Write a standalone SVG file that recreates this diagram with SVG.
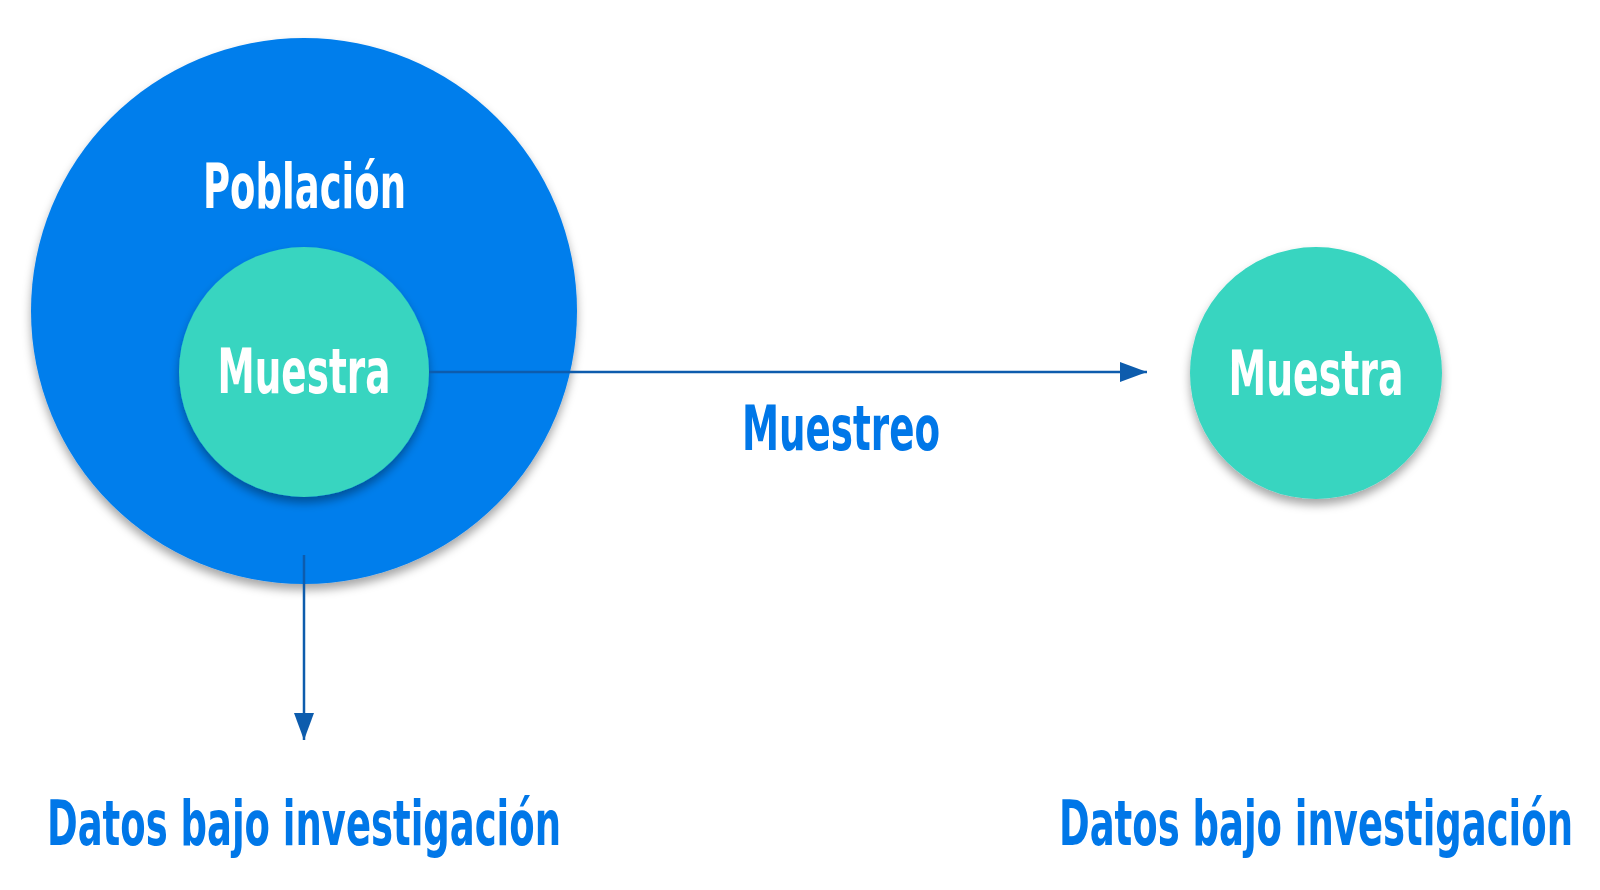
<svg xmlns="http://www.w3.org/2000/svg" width="1600" height="890" viewBox="0 0 1600 890">
<defs>
<style>
.lbl{font-family:"DejaVu Sans","Liberation Sans",sans-serif;font-weight:bold;font-stretch:condensed;text-anchor:middle}
.w{fill:#ffffff}
.b{fill:#0077E8}
.conn{stroke:#0D5CAD;stroke-width:2.5;fill:none}
</style>
<filter id="sh" x="-20%" y="-20%" width="140%" height="140%">
<feDropShadow dx="0" dy="6" stdDeviation="5" flood-color="#000000" flood-opacity="0.35"/>
</filter>
<marker id="ah2" viewBox="0 0 10 10" refX="10" refY="5" markerWidth="27" markerHeight="20" markerUnits="userSpaceOnUse" orient="auto" preserveAspectRatio="none">
<path d="M0,0 L10,5 L0,10 Z" fill="#0D5CAD"/>
</marker>
</defs>
<rect width="1600" height="890" fill="#ffffff"/>
<g id="poblacion">
<circle cx="304" cy="311" r="273" fill="#007EEC" filter="url(#sh)"/>
<text class="lbl w" x="304.5" y="207.5" font-size="63" textLength="203" lengthAdjust="spacingAndGlyphs">Población</text>
</g>
<g id="muestra-interna">
<circle cx="304" cy="372" r="125" fill="#37D5C0" filter="url(#sh)"/>
<text class="lbl w" x="304" y="393" font-size="63" textLength="173" lengthAdjust="spacingAndGlyphs">Muestra</text>
</g>
<g id="connectors">
<line class="conn" x1="429" y1="372" x2="1147" y2="372" marker-end="url(#ah2)"/>
<line class="conn" x1="304" y1="555" x2="304" y2="740" marker-end="url(#ah2)"/>
</g>
<g id="muestreo">
<text class="lbl b" x="841" y="450" font-size="63" textLength="198" lengthAdjust="spacingAndGlyphs">Muestreo</text>
</g>
<g id="muestra-externa">
<circle cx="1316" cy="373" r="126" fill="#37D5C0" filter="url(#sh)"/>
<text class="lbl w" x="1316" y="394.5" font-size="63" textLength="175" lengthAdjust="spacingAndGlyphs">Muestra</text>
</g>
<g id="datos-izq">
<text class="lbl b" x="304" y="845" font-size="63" textLength="514" lengthAdjust="spacingAndGlyphs">Datos bajo investigación</text>
</g>
<g id="datos-der">
<text class="lbl b" x="1316" y="845" font-size="63" textLength="514" lengthAdjust="spacingAndGlyphs">Datos bajo investigación</text>
</g>
</svg>
